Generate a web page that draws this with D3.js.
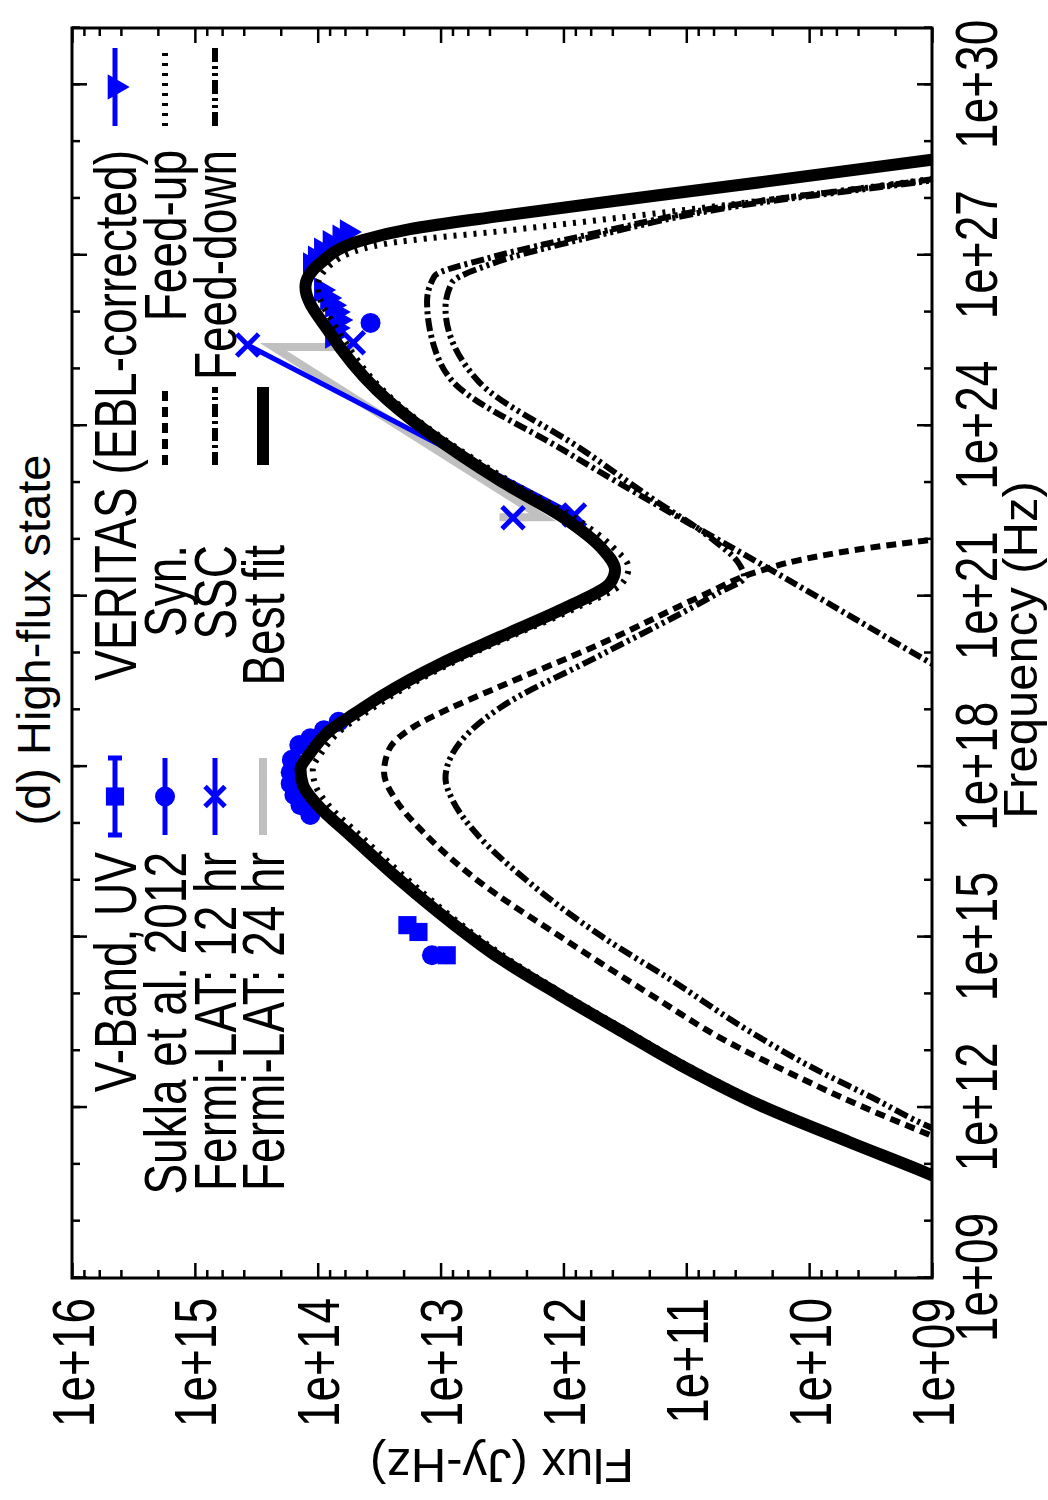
<!DOCTYPE html>
<html>
<head>
<meta charset="utf-8">
<script src="https://cdn.jsdelivr.net/npm/d3@7"></script>
<style>
body { margin: 0; background: #fff; }
text { font-family: "Liberation Sans", Arial, Helvetica, sans-serif; fill: #000; }
</style>
</head>
<body>
<div id="chart"></div>
<script>

// every pair is [log10 frequency (Hz), log10 flux (Jy-Hz)]
var bestFit = [[10.65, 8.83], [10.81, 9.00], [11.39, 9.67], [12.04, 10.40], [12.75, 11.05],
    [13.36, 11.54], [13.98, 12.03], [14.63, 12.52], [15.27, 12.92], [16.00, 13.33],
    [16.80, 13.74], [17.32, 14.00], [17.68, 14.12], [17.95, 14.14], [18.24, 14.06],
    [18.64, 13.90], [18.96, 13.68], [19.23, 13.49], [19.81, 13.00], [20.28, 12.52],
    [20.81, 11.97], [21.23, 11.62], [21.46, 11.58], [21.87, 11.70], [22.34, 11.97],
    [23.04, 12.52], [24.63, 13.52], [25.63, 13.90], [26.44, 14.10], [26.86, 13.98],
    [27.27, 13.63], [27.46, 13.25], [27.69, 12.52], [28.06, 11.21], [28.68, 9.00],
    [28.80, 8.60]];

var feedUp = [[10.65, 8.78], [10.81, 8.95], [11.39, 9.62], [12.04, 10.35], [12.75, 11.00],
    [13.36, 11.49], [13.98, 11.98], [14.63, 12.46], [15.27, 12.86], [16.00, 13.26],
    [16.80, 13.66], [17.32, 13.91], [17.68, 14.02], [17.95, 14.04], [18.24, 13.97],
    [18.64, 13.81], [18.96, 13.60], [19.23, 13.41], [19.81, 12.92], [20.28, 12.44],
    [20.81, 11.88], [21.23, 11.52], [21.50, 11.47], [21.87, 11.60], [22.34, 11.88],
    [23.04, 12.45], [24.63, 13.47], [25.63, 13.82], [26.44, 14.00], [26.86, 13.88],
    [27.20, 13.45], [27.45, 12.40], [27.90, 10.62], [28.34, 9.02], [28.50, 8.50]];

var syn = [[11.20, 8.66], [11.52, 9.02], [12.00, 9.55], [12.60, 10.15], [13.20, 10.70],
    [14.00, 11.30], [15.00, 12.02], [16.00, 12.70], [16.80, 13.12], [17.40, 13.36],
    [17.90, 13.46], [18.30, 13.42], [18.70, 13.22], [19.00, 12.95], [19.38, 12.55],
    [20.14, 11.72], [21.00, 10.88], [21.41, 10.45], [21.64, 10.07], [21.99, 9.00],
    [22.10, 8.50]];

var ssc = [[19.50, 8.75], [19.81, 9.00], [21.20, 10.10], [23.57, 12.00], [24.80, 12.91],
    [25.31, 13.04], [26.19, 13.11], [26.63, 13.05], [26.95, 12.61], [27.39, 11.74],
    [27.90, 10.57], [28.34, 8.99], [28.50, 8.50]];

var feedDown = [[11.40, 8.72], [11.66, 9.02], [12.19, 9.50], [12.71, 9.98], [13.36, 10.50],
    [14.24, 11.12], [15.00, 11.68], [16.00, 12.30], [16.80, 12.70], [17.40, 12.90],
    [17.80, 12.96], [18.20, 12.91], [18.60, 12.77], [19.03, 12.52], [19.96, 11.70],
    [21.07, 10.73], [21.33, 10.53], [21.60, 10.58], [21.99, 10.78], [22.75, 11.30],
    [23.57, 11.84], [24.80, 12.70], [26.07, 12.96], [26.51, 12.91], [26.83, 12.61],
    [27.34, 11.74], [27.87, 10.57], [28.32, 8.99], [28.50, 8.40]];

var vband = [[14.68, 12.95], [15.09, 13.18], [15.21, 13.27]];

var sukla = [[14.68, 13.07], [17.15, 14.06], [17.32, 14.14], [17.50, 14.19], [17.70, 14.22],
    [17.90, 14.22], [18.12, 14.21], [18.38, 14.15], [18.50, 14.06], [18.64, 13.95],
    [18.79, 13.83], [25.81, 13.57]];

// 12 hr bins; only the first pair is joined by a line
var fermi12 = [[25.42, 14.57], [22.43, 11.91], [25.46, 13.71], [22.38, 12.41]];

var fermi24 = [[25.385, 13.70], [25.385, 14.36], [22.39, 12.17], [22.39, 12.52]];

var veritas = [[25.58, 13.88], [25.72, 13.85], [25.86, 13.83], [26.00, 13.85], [26.12, 13.88],
    [26.25, 13.92], [26.39, 13.97], [26.83, 14.06], [26.95, 14.02], [27.09, 13.97],
    [27.22, 13.90], [27.32, 13.82], [27.41, 13.76]];

var freqTicks = [9, 12, 15, 18, 21, 24, 27, 30];
var fluxTicks = [9, 10, 11, 12, 13, 14, 15, 16];

var blue = "#0000ff";
var grey = "#c0c0c0";

// the chart is drawn landscape (1500 x 1048) and turned a quarter turn left
var width = 1500, height = 1048;
var plot = {left: 222, right: 1472, top: 72, bottom: 932};
var stretch = 1.3;   // tick and key glyphs of the original are taller than wide

function p(v) { return Math.pow(10, v); }

var x = d3.scaleLog().domain([1e9, 1e31]).range([plot.left, plot.right]);
var y = d3.scaleLog().domain([1e9, 1e16]).range([plot.bottom, plot.top]);

var fmt = function(d) { return "1e+" + d3.format("02d")(Math.round(Math.log10(d))); };

var chart = document.getElementById("chart");
var svg = d3.select(chart).append("svg")
    .attr("width", height)
    .attr("height", width);

svg.append("rect").attr("width", height).attr("height", width).attr("fill", "#fff");

var g = svg.append("g")
    .attr("transform", "translate(0," + width + ") rotate(-90)");

g.append("defs").append("clipPath").attr("id", "plotClip")
  .append("rect")
    .attr("x", plot.left).attr("y", plot.top)
    .attr("width", plot.right - plot.left).attr("height", plot.bottom - plot.top);

function label(parent, tx, ty, str, anchor, size, sy, rot) {
    return parent.append("text")
        .attr("transform", "translate(" + tx + "," + ty + ")" + (rot ? " rotate(" + rot + ")" : "") +
              " scale(1," + sy + ")")
        .attr("text-anchor", anchor)
        .attr("font-size", size)
        .text(str);
}

// minor ticks: every decade on frequency, 2,4,6,8 on flux
var xMinor = d3.range(9, 32).map(p);
var yMinor = [];
d3.range(9, 16).forEach(function(e) {
    [2, 4, 6, 8].forEach(function(m) { yMinor.push(m * p(e)); });
});

function styleAxis(sel) {
    sel.select(".domain").remove();
    sel.selectAll("line").attr("stroke", "#000").attr("stroke-width", 2.5);
    sel.selectAll("text")
        .attr("font-size", 46)
        .attr("font-family", "'Liberation Sans', Arial, Helvetica, sans-serif")
        .attr("fill", "#000");
}

// frequency axis (bottom) and its mirror
g.append("g")
    .attr("transform", "translate(0," + plot.bottom + ")")
    .call(d3.axisBottom(x).tickValues(freqTicks.map(p)).tickSize(-15).tickFormat(fmt))
    .call(styleAxis)
  .selectAll("text")
    .attr("y", null).attr("dy", null)
    .attr("transform", "translate(0,65) scale(1," + stretch + ")");
g.append("g")
    .attr("transform", "translate(0," + plot.bottom + ")")
    .call(d3.axisBottom(x).tickValues(xMinor).tickSize(-8).tickFormat(""))
    .call(styleAxis);
g.append("g")
    .attr("transform", "translate(0," + plot.top + ")")
    .call(d3.axisTop(x).tickValues(freqTicks.map(p)).tickSize(-15).tickFormat(""))
    .call(styleAxis);
g.append("g")
    .attr("transform", "translate(0," + plot.top + ")")
    .call(d3.axisTop(x).tickValues(xMinor).tickSize(-8).tickFormat(""))
    .call(styleAxis);

// flux axis (left) and its mirror
g.append("g")
    .attr("transform", "translate(" + plot.left + ",0)")
    .call(d3.axisLeft(y).tickValues(fluxTicks.map(p)).tickSize(-15).tickFormat(fmt))
    .call(styleAxis)
  .selectAll("text")
    .attr("x", null).attr("dy", null)
    .attr("transform", "translate(-20,21) scale(1," + stretch + ")");
g.append("g")
    .attr("transform", "translate(" + plot.left + ",0)")
    .call(d3.axisLeft(y).tickValues(yMinor).tickSize(-8).tickFormat(""))
    .call(styleAxis);
g.append("g")
    .attr("transform", "translate(" + plot.right + ",0)")
    .call(d3.axisRight(y).tickValues(fluxTicks.map(p)).tickSize(-15).tickFormat(""))
    .call(styleAxis);
g.append("g")
    .attr("transform", "translate(" + plot.right + ",0)")
    .call(d3.axisRight(y).tickValues(yMinor).tickSize(-8).tickFormat(""))
    .call(styleAxis);

// labels and title
label(g, 850, 1037, "Frequency (Hz)", "middle", 49, 1);
label(g, 51, (plot.top + plot.bottom) / 2, "Flux (Jy-Hz)", "middle", 49, 1, -90);
label(g, 860, 50, "(d) High-flux state", "middle", 47, 1);

var px = function(d) { return x(p(d[0])); };
var py = function(d) { return y(p(d[1])); };

var straight = d3.line().x(px).y(py);
var smooth = d3.line().x(px).y(py).curve(d3.curveMonotoneX);

var marks = g.append("g").attr("clip-path", "url(#plotClip)");

// observations
marks.append("path")
    .datum(fermi24)
    .attr("d", straight)
    .attr("fill", "none").attr("stroke", grey).attr("stroke-width", 8);

marks.append("path")
    .datum(fermi12.slice(0, 2))
    .attr("d", straight)
    .attr("fill", "none").attr("stroke", blue).attr("stroke-width", 5);

function xMark(sel, r) {
    sel.attr("d", "M" + (-r) + "," + (-r) + "L" + r + "," + r + "M" + (-r) + "," + r + "L" + r + "," + (-r))
        .attr("fill", "none").attr("stroke", blue).attr("stroke-width", 5);
}

marks.selectAll(".f12pt")
    .data(fermi12)
    .enter().append("path")
    .attr("class", "f12pt")
    .attr("transform", function(d) { return "translate(" + px(d) + "," + py(d) + ")"; })
    .call(xMark, 11);

marks.selectAll(".vb")
    .data(vband)
    .enter().append("path")
    .attr("class", "vb")
    .attr("transform", function(d) { return "translate(" + px(d) + "," + py(d) + ")"; })
    .attr("d", d3.symbol(d3.symbolSquare, 330))
    .attr("fill", blue);

marks.selectAll(".sk")
    .data(sukla)
    .enter().append("circle")
    .attr("class", "sk")
    .attr("cx", px).attr("cy", py).attr("r", 10)
    .attr("fill", blue);

marks.selectAll(".ver")
    .data(veritas)
    .enter().append("path")
    .attr("class", "ver")
    .attr("transform", function(d) { return "translate(" + px(d) + "," + py(d) + ") rotate(180)"; })
    .attr("d", d3.symbol(d3.symbolTriangle, 280))
    .attr("fill", blue);

// models
var models = [
    {data: bestFit, width: 12, dash: null},
    {data: syn, width: 6, dash: "10,6"},
    {data: ssc, width: 6, dash: "13,4,3,4"},
    {data: feedDown, width: 6, dash: "14,4,3,4,3,4"},
    {data: feedUp, width: 6, dash: "3,7"}
];

marks.selectAll(".model")
    .data(models)
    .enter().append("path")
    .attr("class", "model")
    .attr("d", function(m) { return smooth(m.data); })
    .attr("fill", "none")
    .attr("stroke", "#000")
    .attr("stroke-width", function(m) { return m.width; })
    .attr("stroke-dasharray", function(m) { return m.dash; });

// frame
g.append("rect")
    .attr("x", plot.left).attr("y", plot.top)
    .attr("width", plot.right - plot.left).attr("height", plot.bottom - plot.top)
    .attr("fill", "none").attr("stroke", "#000").attr("stroke-width", 3);

// legend: three columns, text right-aligned before a short sample
var colText = [648, 955, 1350];
var colSample = [[665, 742], [1035, 1113], [1374, 1452]];
var rowY = [115, 165, 215, 263];

var legend = [
    {col: 0, row: 0, text: "V-Band, UV", kind: "vband"},
    {col: 0, row: 1, text: "Sukla et al. 2012", kind: "sukla"},
    {col: 0, row: 2, text: "Fermi-LAT: 12 hr", kind: "fermi12"},
    {col: 0, row: 3, text: "Fermi-LAT: 24 hr", kind: "fermi24"},
    {col: 2, row: 0, text: "VERITAS (EBL-corrected)", kind: "veritas"},
    {col: 1, row: 1, text: "Syn.", kind: 1},
    {col: 1, row: 2, text: "SSC", kind: 2},
    {col: 1, row: 3, text: "Best fit", kind: 0},
    {col: 2, row: 1, text: "Feed-up", kind: 4},
    {col: 2, row: 2, text: "Feed-down", kind: 3}
];

legend.forEach(function(e) {
    var vy = rowY[e.row];
    var s = colSample[e.col];
    var mid = (s[0] + s[1]) / 2;
    var lg = g.append("g");

    label(lg, colText[e.col], vy + 21, e.text, "end", 46, stretch);

    if (typeof e.kind === "number") {
        var m = models[e.kind];
        lg.append("line")
            .attr("x1", s[0]).attr("x2", s[1]).attr("y1", vy).attr("y2", vy)
            .attr("stroke", "#000").attr("stroke-width", m.width)
            .attr("stroke-dasharray", m.dash);
        return;
    }

    var c = e.kind === "fermi24" ? grey : blue;
    lg.append("line")
        .attr("x1", s[0]).attr("x2", s[1]).attr("y1", vy).attr("y2", vy)
        .attr("stroke", c).attr("stroke-width", e.kind === "fermi24" ? 8 : 5);

    if (e.kind === "vband") {
        [s[0], s[1]].forEach(function(ex) {
            lg.append("line")
                .attr("x1", ex).attr("x2", ex).attr("y1", vy - 7).attr("y2", vy + 7)
                .attr("stroke", blue).attr("stroke-width", 5);
        });
        lg.append("path").attr("transform", "translate(" + mid + "," + vy + ")")
            .attr("d", d3.symbol(d3.symbolSquare, 330)).attr("fill", blue);
    } else if (e.kind === "sukla") {
        lg.append("circle").attr("cx", mid).attr("cy", vy).attr("r", 10).attr("fill", blue);
    } else if (e.kind === "fermi12") {
        lg.append("path").attr("transform", "translate(" + mid + "," + vy + ")").call(xMark, 10);
    } else if (e.kind === "veritas") {
        lg.append("path").attr("transform", "translate(" + mid + "," + vy + ") rotate(180)")
            .attr("d", d3.symbol(d3.symbolTriangle, 280)).attr("fill", blue);
    }
});

</script>
</body>
</html>
